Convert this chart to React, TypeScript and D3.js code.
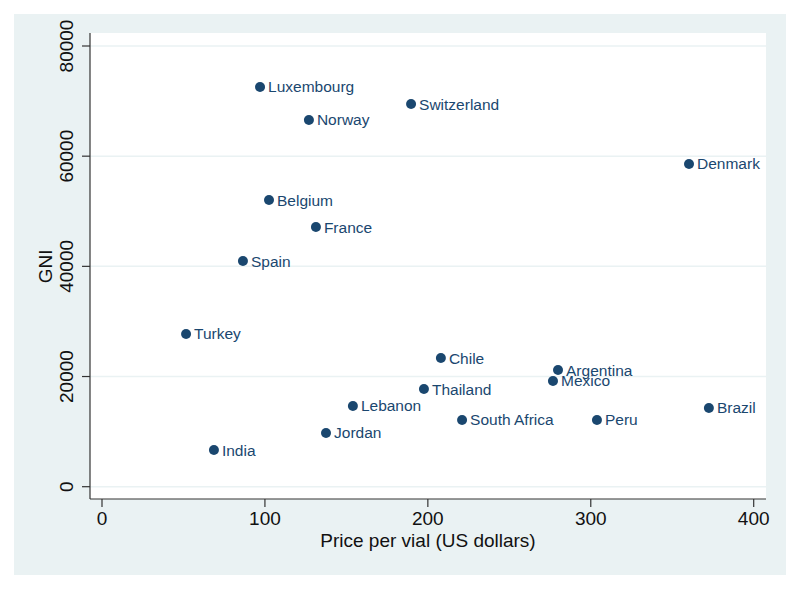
import React, { useEffect, useRef } from "react";
import * as d3 from "d3";

const countries = ["Luxembourg", "Switzerland", "Norway", "Denmark", "Belgium", "France", "Spain", "Turkey", "Chile", "Argentina", "Mexico", "Thailand", "Lebanon", "Brazil", "South Africa", "Peru", "Jordan", "India"];
const prices = [97, 189.7, 127, 360.3, 102.5, 131.3, 86.5, 51.6, 208, 279.9, 276.8, 197.6, 154, 372.5, 221, 303.8, 137.5, 68.7];
const gni = [72560, 69470, 66570, 58580, 52040, 47140, 40970, 27720, 23360, 21180, 19190, 17730, 14650, 14290, 12110, 12110, 9750, 6660];
const xTicks = [0, 100, 200, 300, 400];
const yTicks = [0, 20000, 40000, 60000, 80000];

const W = 800;
const H = 590;
const NAVY = "#1a476f";
const BG = "#eaf2f3";
const FONT = "'Liberation Sans', Arial, Helvetica, sans-serif";

export default function App() {
  const ref = useRef<SVGSVGElement>(null);

  useEffect(() => {
    const svg = d3.select(ref.current);
    svg.selectAll("*").remove();

    // outer graph region
    svg.append("rect").attr("x", 14).attr("y", 14).attr("width", 772).attr("height", 561).attr("fill", BG);

    const left = 90, right = 766, top = 33, bottom = 499;
    svg.append("rect").attr("x", left).attr("y", top).attr("width", right - left).attr("height", bottom - top).attr("fill", "#fff");

    const x = d3.scaleLinear().domain([0, 400]).range([102, 753.7]);
    const y = d3.scaleLinear().domain([0, 80000]).range([486.7, 46]);

    // gridlines
    svg.selectAll(".grid").data(yTicks).enter().append("line")
      .attr("x1", left).attr("x2", right)
      .attr("y1", (d) => y(d)).attr("y2", (d) => y(d))
      .attr("stroke", BG).attr("stroke-width", 1.5);

    // axes
    const axisColor = "#333";
    svg.append("line").attr("x1", left).attr("x2", left).attr("y1", top).attr("y2", bottom).attr("stroke", axisColor).attr("stroke-width", 1.2);
    svg.append("line").attr("x1", left).attr("x2", right).attr("y1", bottom).attr("y2", bottom).attr("stroke", axisColor).attr("stroke-width", 1.2);

    svg.selectAll(".ytick").data(yTicks).enter().append("line")
      .attr("x1", left - 8).attr("x2", left)
      .attr("y1", (d) => y(d)).attr("y2", (d) => y(d))
      .attr("stroke", axisColor).attr("stroke-width", 1.2);
    svg.selectAll(".ylab").data(yTicks).enter().append("text")
      .attr("transform", (d) => `translate(73,${y(d)}) rotate(-90)`)
      .attr("text-anchor", "middle")
      .attr("font-family", FONT).attr("font-size", 19).attr("fill", "#111")
      .text((d) => d);

    svg.selectAll(".xtick").data(xTicks).enter().append("line")
      .attr("x1", (d) => x(d)).attr("x2", (d) => x(d))
      .attr("y1", bottom).attr("y2", bottom + 8)
      .attr("stroke", axisColor).attr("stroke-width", 1.2);
    svg.selectAll(".xlab").data(xTicks).enter().append("text")
      .attr("x", (d) => x(d)).attr("y", 525)
      .attr("text-anchor", "middle")
      .attr("font-family", FONT).attr("font-size", 19).attr("fill", "#111")
      .text((d) => d);

    svg.append("text").attr("x", (left + right) / 2).attr("y", 547)
      .attr("text-anchor", "middle").attr("font-family", FONT).attr("font-size", 19).attr("fill", "#111")
      .text("Price per vial (US dollars)");
    svg.append("text").attr("transform", `translate(52,${(y(0) + y(80000)) / 2}) rotate(-90)`)
      .attr("text-anchor", "middle").attr("font-family", FONT).attr("font-size", 19).attr("fill", "#111")
      .text("GNI");

    // points
    const idx = d3.range(countries.length);
    svg.selectAll(".pt").data(idx).enter().append("circle")
      .attr("cx", (i) => x(prices[i])).attr("cy", (i) => y(gni[i]))
      .attr("r", 5).attr("fill", NAVY);
    svg.selectAll(".lab").data(idx).enter().append("text")
      .attr("x", (i) => x(prices[i]) + 8).attr("y", (i) => y(gni[i]) + 5.5)
      .attr("font-family", FONT).attr("font-size", 15.5).attr("fill", NAVY)
      .text((i) => countries[i]);
  }, []);

  return <svg ref={ref} width={W} height={H} style={{ display: "block", margin: -8 }} />;
}
